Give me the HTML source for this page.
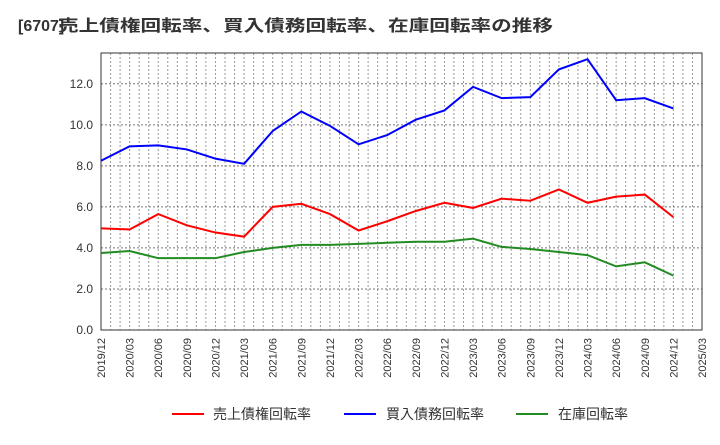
<!DOCTYPE html>
<html><head><meta charset="utf-8"><style>
body{margin:0;background:#fff;width:720px;height:440px;overflow:hidden}
svg{font-family:"Liberation Sans","Noto Sans CJK JP",sans-serif}
</style></head><body>
<svg id="c" width="720" height="440">
<g>
<text x="18" y="31" font-size="16" font-weight="bold" fill="#333">[6707]</text>
<text x="58" y="31" font-size="16" font-weight="bold" fill="#333" textLength="495" lengthAdjust="spacingAndGlyphs">売上債権回転率、買入債務回転率、在庫回転率の推移</text>
</g>
<g id="grid"></g><g id="axes"></g><g id="lines"></g>
<g>
<line x1="172" y1="414" x2="204" y2="414" stroke="#f00" stroke-width="2"/>
<text x="213" y="419" font-size="14" fill="#333">売上債権回転率</text>
<line x1="344" y1="414" x2="376" y2="414" stroke="#00f" stroke-width="2"/>
<text x="386" y="419" font-size="14" fill="#333">買入債務回転率</text>
<line x1="516" y1="414" x2="548" y2="414" stroke="#228b22" stroke-width="2"/>
<text x="558" y="419" font-size="14" fill="#333">在庫回転率</text>
</g>
</svg>
<script>
const categories=["2019/12","2020/03","2020/06","2020/09","2020/12","2021/03","2021/06","2021/09","2021/12","2022/03","2022/06","2022/09","2022/12","2023/03","2023/06","2023/09","2023/12","2024/03","2024/06","2024/09","2024/12","2025/03"];
const payables=[8.25,8.95,9.0,8.8,8.35,8.1,9.7,10.65,9.95,9.05,9.5,10.25,10.7,11.85,11.3,11.35,12.7,13.2,11.2,11.3,10.8];
const receivables=[4.95,4.9,5.65,5.1,4.75,4.55,6.0,6.15,5.65,4.85,5.3,5.8,6.2,5.95,6.4,6.3,6.85,6.2,6.5,6.6,5.5];
const inventory=[3.75,3.85,3.5,3.5,3.5,3.8,4.0,4.15,4.15,4.2,4.25,4.3,4.3,4.45,4.05,3.95,3.8,3.65,3.1,3.3,2.65];
const yTicks=[0,2,4,6,8,10,12];
const L=101,R=702,T=53,B=330,YMAX=13.5;
const x=i=>L+(R-L)*i/(categories.length-1);
const y=v=>B-(B-T)*v/YMAX;
const NS="http://www.w3.org/2000/svg";
function mk(p,t,a){const e=document.createElementNS(NS,t);for(const k in a)e.setAttribute(k,a[k]);p.appendChild(e);return e;}
const grid=document.getElementById('grid'),axes=document.getElementById('axes'),lines=document.getElementById('lines');
const n=(categories.length-1)*3;
for(let m=1;m<n;m++){const gx=L+(R-L)*m/n;
const g=mk(grid,'line',{x1:gx,x2:gx,y1:T,y2:B,stroke:'#999','stroke-dasharray':'2,2','stroke-width':1});

}
yTicks.forEach(v=>{if(v>0){const g=mk(grid,'line',{x1:L,x2:R,y1:y(v),y2:y(v),stroke:'#777','stroke-dasharray':'2,2'});

}
const t=mk(axes,'text',{x:L-8,y:y(v)+4,'font-size':12,fill:'#333','text-anchor':'end'});t.textContent=v.toFixed(1);

});
const fr=mk(axes,'rect',{x:L,y:T,width:R-L,height:B-T,fill:'none',stroke:'#333'});


categories.forEach((c,i)=>{const t=mk(axes,'text',{x:0,y:0,'font-size':11,fill:'#333','text-anchor':'end',transform:`translate(${x(i)+4},${B+8}) rotate(-90)`});t.textContent=c;

});
[[receivables,'#f00','receivables-line'],[payables,'#00f','payables-line'],[inventory,'#228b22','inventory-line']].forEach(([d,col,nm])=>{
const p=mk(lines,'polyline',{points:d.map((v,i)=>x(i)+','+y(v)).join(' '),fill:'none',stroke:col,'stroke-width':2});

});
</script>
</body></html>
